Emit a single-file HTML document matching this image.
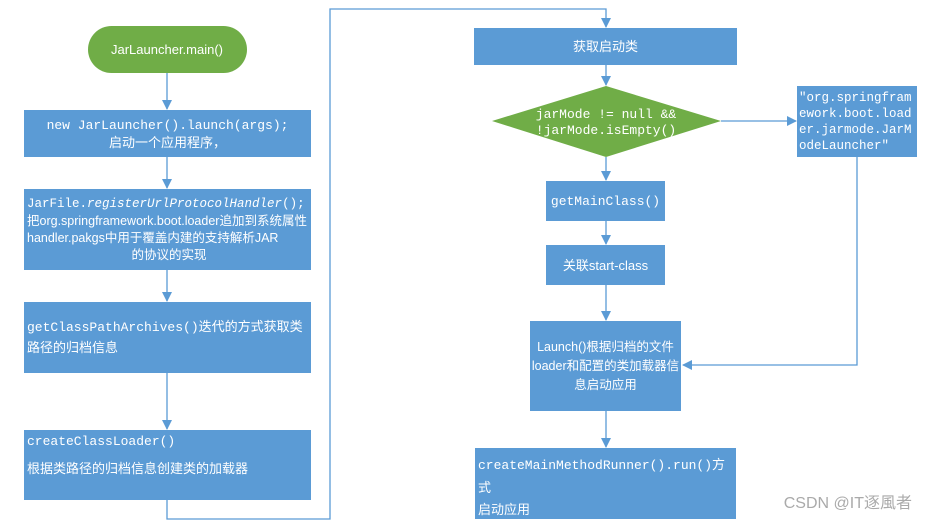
<!DOCTYPE html>
<html><head><meta charset="utf-8"><style>
body{margin:0;width:927px;height:520px;background:#fff;position:relative;overflow:hidden;font-family:"Liberation Sans","Noto Sans CJK SC",sans-serif;}
.b{position:absolute;background:#5b9bd5;color:#fff;font-size:13px;line-height:17px;display:flex;flex-direction:column;justify-content:center;box-sizing:border-box;}
.m{font-family:"Liberation Mono","Noto Sans CJK SC",monospace;}
.c{text-align:center;align-items:center;}
svg{position:absolute;left:0;top:0}
</style></head><body>
<svg width="927" height="520">
<defs><marker id="a" markerWidth="10" markerHeight="10" refX="9" refY="5" orient="auto" markerUnits="userSpaceOnUse"><path d="M0,0 L10,5 L0,10z" fill="#5b9bd5"/></marker></defs>
<g stroke="#5b9bd5" stroke-width="1.3" fill="none">
<line x1="167" y1="73" x2="167" y2="109" marker-end="url(#a)"/>
<line x1="167" y1="157" x2="167" y2="188" marker-end="url(#a)"/>
<line x1="167" y1="270" x2="167" y2="301" marker-end="url(#a)"/>
<line x1="167" y1="373" x2="167" y2="429" marker-end="url(#a)"/>
<polyline points="167,500 167,519 330,519 330,9 606,9 606,27" marker-end="url(#a)"/>
<line x1="606" y1="65" x2="606" y2="85" marker-end="url(#a)"/>
<line x1="606" y1="157" x2="606" y2="180" marker-end="url(#a)"/>
<line x1="606" y1="221" x2="606" y2="244" marker-end="url(#a)"/>
<line x1="606" y1="285" x2="606" y2="320" marker-end="url(#a)"/>
<line x1="606" y1="411" x2="606" y2="447" marker-end="url(#a)"/>
<line x1="721" y1="121" x2="796" y2="121" marker-end="url(#a)"/>
<polyline points="857,157 857,365 683,365" marker-end="url(#a)"/>
</g>
<polygon points="492,121 606,86 721,121 606,157" fill="#70ad47"/>
<rect x="88" y="26" width="159" height="47" rx="23.5" fill="#70ad47"/>
<text x="167" y="54" fill="#fff" font-size="13" text-anchor="middle" font-family="Liberation Sans,sans-serif">JarLauncher.main()</text>
<text x="606" y="118" fill="#fff" font-size="13" text-anchor="middle" font-family="Liberation Mono,monospace">jarMode != null &amp;&amp;</text>
<text x="606" y="134" fill="#fff" font-size="13" text-anchor="middle" font-family="Liberation Mono,monospace">!jarMode.isEmpty()</text>
<text x="912" y="508" fill="#aaa" font-size="16" text-anchor="end" font-family="Liberation Sans,Noto Sans CJK SC,sans-serif">CSDN @IT逐風者</text>
</svg>
<div class="b c" style="left:24px;top:110px;width:287px;height:47px"><span class="m">new JarLauncher().launch(args);</span><span>启动一个应用程序，</span></div>
<div class="b" style="left:24px;top:189px;width:287px;height:81px;padding-left:3px;font-size:12.5px;line-height:17px"><span class="m">JarFile.<i>registerUrlProtocolHandler</i>();</span><span>把org.springframework.boot.loader追加到系统属性handler.pakgs中用于覆盖内建的支持解析JAR</span><span style="text-align:center">的协议的实现</span></div>
<div class="b" style="left:24px;top:302px;width:287px;height:71px;padding-left:3px;line-height:20px"><span><span class="m">getClassPathArchives()</span>迭代的方式获取类路径的归档信息</span></div>
<div class="b" style="left:24px;top:430px;width:287px;height:70px;padding-left:3px;justify-content:flex-start;padding-top:3px"><span class="m">createClassLoader()</span><span style="margin-top:10px">根据类路径的归档信息创建类的加载器</span></div>
<div class="b c" style="left:474px;top:28px;width:263px;height:37px"><span>获取启动类</span></div>
<div class="b m" style="left:797px;top:86px;width:120px;height:71px;padding-left:2px;line-height:16px;word-break:break-all;font-size:12.5px">"org.springframework.boot.loader.jarmode.JarModeLauncher"</div>
<div class="b c m" style="left:546px;top:181px;width:119px;height:40px"><span>getMainClass()</span></div>
<div class="b c" style="left:546px;top:245px;width:119px;height:40px"><span>关联start-class</span></div>
<div class="b c" style="left:530px;top:321px;width:151px;height:90px;line-height:19px;font-size:12.5px"><span>Launch()根据归档的文件loader和配置的类加载器信息启动应用</span></div>
<div class="b" style="left:475px;top:448px;width:261px;height:71px;padding-left:3px;line-height:22px;padding-top:8px"><span><span class="m">createMainMethodRunner().run()</span>方式</span><span>启动应用</span></div>
</body></html>
